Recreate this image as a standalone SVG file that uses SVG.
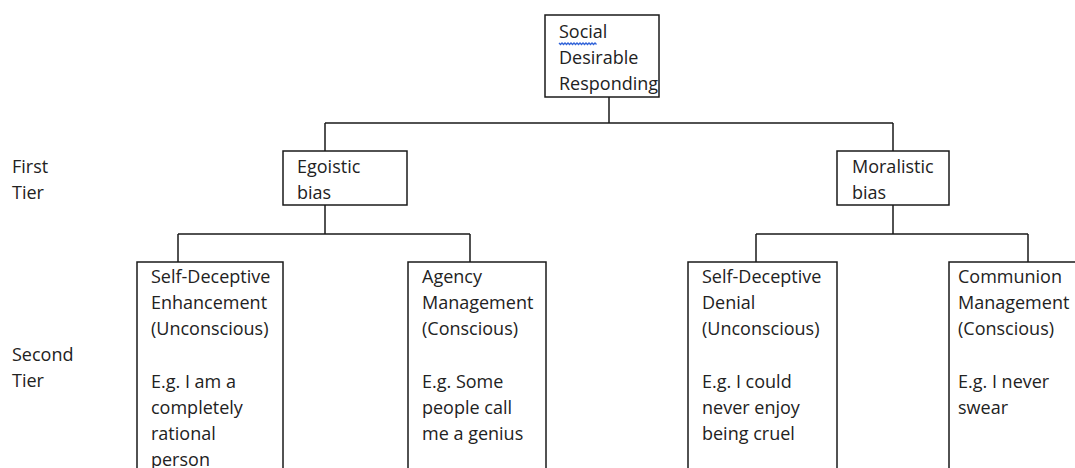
<svg xmlns="http://www.w3.org/2000/svg" width="1075" height="468" viewBox="0 0 1075 468">
<style>
.box{fill:#fff;stroke:#1a1a1a;stroke-width:1.5}
.ln{fill:none;stroke:#1a1a1a;stroke-width:1.5}
text{font-family:"Open Sans","Noto Sans","Liberation Sans",sans-serif;font-size:18px;fill:#222}
</style>
<rect width="1075" height="468" fill="#fff"/>
<g id="connectors">
<path class="ln" d="M609 97V123M325 123H893M325 123V151M893 123V151"/>
<path class="ln" d="M325 205V234M178 234H470M178 234V262M470 234V262"/>
<path class="ln" d="M893 205V234M756 234H1028M756 234V262M1028 234V262"/>
</g>
<g id="root">
<rect class="box" x="545" y="15" width="114" height="82"/>
<text x="559" y="38">Social</text>
<path d="M559 43l1.5 1.5 1.5-1.5 1.5 1.5 1.5-1.5 1.5 1.5 1.5-1.5 1.5 1.5 1.5-1.5 1.5 1.5 1.5-1.5 1.5 1.5 1.5-1.5 1.5 1.5 1.5-1.5 1.5 1.5 1.5-1.5 1.5 1.5 1.5-1.5 1.5 1.5 1.5-1.5 1.5 1.5 1.5-1.5 1.5 1.5 1.5-1.5 1.5 1.5" fill="none" stroke="#2f62d8" stroke-width="1.3"/>
<text x="559" y="64">Desirable</text>
<text x="559" y="90">Responding</text>
</g>
<g id="tier-labels">
<text x="12" y="173">First</text>
<text x="12" y="199">Tier</text>
<text x="12" y="361">Second</text>
<text x="12" y="387">Tier</text>
</g>
<g id="egoistic">
<rect class="box" x="283" y="151" width="124" height="54"/>
<text x="297" y="173">Egoistic</text>
<text x="297" y="199">bias</text>
</g>
<g id="moralistic">
<rect class="box" x="837" y="151" width="112" height="54"/>
<text x="852" y="173">Moralistic</text>
<text x="852" y="199">bias</text>
</g>
<g id="sde">
<rect class="box" x="137" y="262" width="146" height="230"/>
<text x="151" y="283">Self-Deceptive</text>
<text x="151" y="309">Enhancement</text>
<text x="151" y="335">(Unconscious)</text>
<text x="151" y="388">E.g. I am a</text>
<text x="151" y="414">completely</text>
<text x="151" y="440">rational</text>
<text x="151" y="466">person</text>
</g>
<g id="agency">
<rect class="box" x="408" y="262" width="138" height="230"/>
<text x="422" y="283">Agency</text>
<text x="422" y="309">Management</text>
<text x="422" y="335">(Conscious)</text>
<text x="422" y="388">E.g. Some</text>
<text x="422" y="414">people call</text>
<text x="422" y="440">me a genius</text>
</g>
<g id="sdd">
<rect class="box" x="688" y="262" width="149" height="230"/>
<text x="702" y="283">Self-Deceptive</text>
<text x="702" y="309">Denial</text>
<text x="702" y="335">(Unconscious)</text>
<text x="702" y="388">E.g. I could</text>
<text x="702" y="414">never enjoy</text>
<text x="702" y="440">being cruel</text>
</g>
<g id="communion">
<rect class="box" x="949" y="262" width="150" height="230"/>
<text x="958" y="283">Communion</text>
<text x="958" y="309">Management</text>
<text x="958" y="335">(Conscious)</text>
<text x="958" y="388">E.g. I never</text>
<text x="958" y="414">swear</text>
</g>
</svg>
